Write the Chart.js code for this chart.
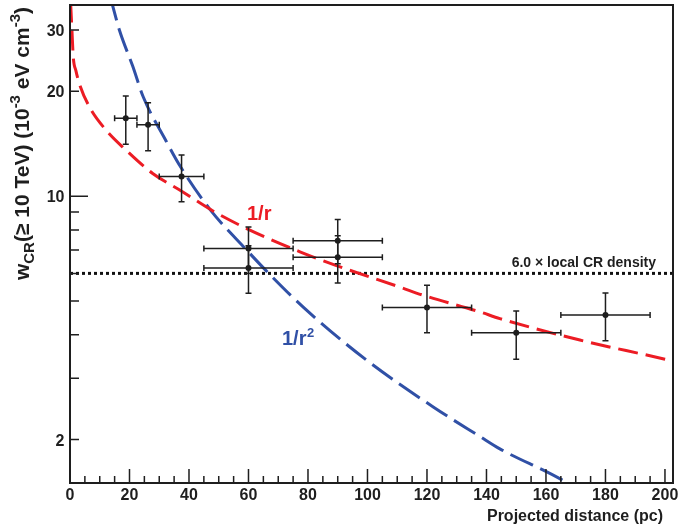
<!DOCTYPE html>
<html><head><meta charset="utf-8">
<script src="https://cdn.jsdelivr.net/npm/chart.js@4"></script>
<style>html,body{margin:0;padding:0;background:#fff}#wrap{width:678px;height:528px;position:relative}</style>
</head><body><div id="wrap"><canvas id="c" width="678" height="528"></canvas></div>
<script>
// ---- data ----
const pointX    = [18.75, 26.25, 37.5, 60, 60, 90, 90, 120, 150, 180];
const pointXErr = [3.75, 3.75, 7.5, 15, 15, 15, 15, 15, 15, 15];
const pointY    = [16.75, 16.03, 11.39, 7.07, 6.22, 7.44, 6.68, 4.79, 4.05, 4.56];
const pointYHi  = [19.4, 18.54, 13.12, 8.15, 7.2, 8.57, 7.7, 5.55, 4.68, 5.27];
const pointYLo  = [14.1, 13.5, 9.63, 6.0, 5.26, 6.4, 5.63, 4.05, 3.40, 3.84];

const redX = [0.2, 0.65, 1.1, 2.0, 3.1, 6.5, 12.1, 18.8, 27.8, 37.0, 48.2, 59.4, 77.3, 89.1, 110.9, 118.8, 137.8, 144.5, 171.4, 200.0, 203.0];
const redY = [36.0, 30.0, 25.1, 22.9, 21.1, 18.06, 15.48, 13.56, 11.62, 10.40, 9.05, 8.07, 6.92, 6.34, 5.48, 5.19, 4.65, 4.45, 3.86, 3.40, 3.35];

const blueX = [13.5, 16.6, 21.1, 24.6, 32.3, 37.0, 47.1, 59.4, 66.0, 78.4, 99.7, 122.1, 137.8, 144.5, 166.0, 168.0];
const blueY = [37.5, 30.0, 23.6, 19.3, 14.4, 12.2, 9.15, 7.0, 6.1, 4.8, 3.38, 2.48, 2.04, 1.88, 1.52, 1.48];

const localLevel = 6.0;

const xTickValues = [0, 20, 40, 60, 80, 100, 120, 140, 160, 180, 200];
const xTickLabels = ['0', '20', '40', '60', '80', '100', '120', '140', '160', '180', '200'];
const xMinorStep = 5;
const yTickValues = [2, 10, 20, 30];
const yTickLabels = ['2', '10', '20', '30'];
const yMinorTicks = [2, 3, 4, 5, 6, 7, 8, 9, 20, 30];
const yDecadeTicks = [10];

const xTitle = 'Projected distance (pc)';
const levelLabel = '6.0 \u00d7 local CR density';

const RED = '#ec1c24';
const BLUE = '#3050a6';
const INK = '#1e1e1e';
const FONT = '"Liberation Sans", Arial, Helvetica, sans-serif';

function xy(xs, ys) { return xs.map((x, i) => ({ x: x, y: ys[i] })); }

const decor = {
  id: 'decor',
  afterDatasetsDraw(chart) {
    const ctx = chart.ctx, xs = chart.scales.x, ys = chart.scales.y;
    ctx.save();
    ctx.strokeStyle = INK;
    ctx.lineWidth = 1.5;
    const cap = 3;
    for (let i = 0; i < pointX.length; i++) {
      const px = xs.getPixelForValue(pointX[i]);
      const py = ys.getPixelForValue(pointY[i]);
      const x0 = xs.getPixelForValue(pointX[i] - pointXErr[i]);
      const x1 = xs.getPixelForValue(pointX[i] + pointXErr[i]);
      const y0 = ys.getPixelForValue(pointYLo[i]);
      const y1 = ys.getPixelForValue(pointYHi[i]);
      ctx.beginPath();
      ctx.moveTo(x0, py); ctx.lineTo(x1, py);
      ctx.moveTo(x0, py - cap); ctx.lineTo(x0, py + cap);
      ctx.moveTo(x1, py - cap); ctx.lineTo(x1, py + cap);
      ctx.moveTo(px, y0); ctx.lineTo(px, y1);
      ctx.moveTo(px - cap, y0); ctx.lineTo(px + cap, y0);
      ctx.moveTo(px - cap, y1); ctx.lineTo(px + cap, y1);
      ctx.stroke();
      ctx.fillStyle = INK;
      ctx.beginPath(); ctx.arc(px, py, 3, 0, Math.PI * 2); ctx.fill();
    }
    ctx.restore();
  },
  afterDraw(chart) {
    const ctx = chart.ctx, a = chart.chartArea, xs = chart.scales.x, ys = chart.scales.y;
    ctx.save();
    // frame
    ctx.strokeStyle = INK;
    ctx.lineWidth = 2;
    ctx.strokeRect(a.left, a.top, a.right - a.left, a.bottom - a.top);
    // x ticks
    ctx.lineWidth = 1.5;
    ctx.beginPath();
    for (let v = 0; v <= 200; v += xMinorStep) {
      const px = xs.getPixelForValue(v);
      const len = (v % 20 === 0) ? 14 : 7;
      ctx.moveTo(px, a.bottom); ctx.lineTo(px, a.bottom - len);
    }
    yMinorTicks.forEach(v => { const py = ys.getPixelForValue(v); ctx.moveTo(a.left, py); ctx.lineTo(a.left + 9, py); });
    yDecadeTicks.forEach(v => { const py = ys.getPixelForValue(v); ctx.moveTo(a.left, py); ctx.lineTo(a.left + 18, py); });
    ctx.stroke();
    // tick labels
    ctx.fillStyle = INK;
    ctx.font = 'bold 16px ' + FONT;
    ctx.textAlign = 'center'; ctx.textBaseline = 'alphabetic';
    xTickValues.forEach((v, i) => ctx.fillText(xTickLabels[i], xs.getPixelForValue(v), 500));
    ctx.textAlign = 'right';
    yTickValues.forEach((v, i) => ctx.fillText(yTickLabels[i], 64.5, ys.getPixelForValue(v) + 6));
    // x title
    ctx.textAlign = 'right';
    ctx.fillText(xTitle, a.right - 10, 521);
    // y title (rotated, right aligned to top)
    const main = 'bold 21px ' + FONT, small = 'bold 15px ' + FONT;
    const segs = [
      { t: 'w', f: main, d: 0 }, { t: 'CR', f: small, d: 5 },
      { t: '(\u2265 10 TeV) (10', f: main, d: 0 }, { t: '-3', f: small, d: -9 },
      { t: ' eV cm', f: main, d: 0 }, { t: '-3', f: small, d: -9 }, { t: ')', f: main, d: 0 }
    ];
    let total = 0;
    segs.forEach(s => { ctx.font = s.f; s.w = ctx.measureText(s.t).width; total += s.w; });
    ctx.translate(29, 7 + total);
    ctx.rotate(-Math.PI / 2);
    ctx.textAlign = 'left';
    let cx = 0;
    segs.forEach(s => { ctx.font = s.f; ctx.fillText(s.t, cx, s.d); cx += s.w; });
    ctx.setTransform(1, 0, 0, 1, 0, 0);
    // annotations
    ctx.font = 'bold 20px ' + FONT;
    ctx.fillStyle = RED; ctx.textAlign = 'left';
    ctx.fillText('1/r', 247, 219.5);
    ctx.fillStyle = BLUE;
    ctx.fillText('1/r', 282, 345);
    const w = ctx.measureText('1/r').width;
    ctx.font = 'bold 13px ' + FONT;
    ctx.fillText('2', 282 + w + 0.5, 337);
    ctx.fillStyle = INK; ctx.textAlign = 'right';
    ctx.font = 'bold 14px ' + FONT;
    ctx.fillText(levelLabel, 656, 266.5);
    ctx.restore();
  }
};

new Chart(document.getElementById('c'), {
  type: 'line',
  data: {
    datasets: [
      { data: xy(redX, redY), borderColor: RED, borderWidth: 3, borderDash: [20, 8], pointRadius: 0, cubicInterpolationMode: 'monotone', fill: false },
      { data: xy(blueX, blueY), borderColor: BLUE, borderWidth: 3, borderDash: [25, 8], pointRadius: 0, cubicInterpolationMode: 'monotone', fill: false },
      { data: [{ x: 0, y: localLevel }, { x: 202.7, y: localLevel }], borderColor: '#111', borderWidth: 3, borderDash: [3, 3], pointRadius: 0, fill: false }
    ]
  },
  options: {
    responsive: false, animation: false, devicePixelRatio: 1,
    layout: { padding: { left: 70, right: 5, top: 5, bottom: 45 } },
    plugins: { legend: { display: false }, tooltip: { enabled: false } },
    scales: {
      x: { type: 'linear', min: 0, max: 202.7, display: false },
      y: { type: 'logarithmic', min: 1.5, max: 35.4, display: false }
    }
  },
  plugins: [decor]
});
</script>
</body></html>
